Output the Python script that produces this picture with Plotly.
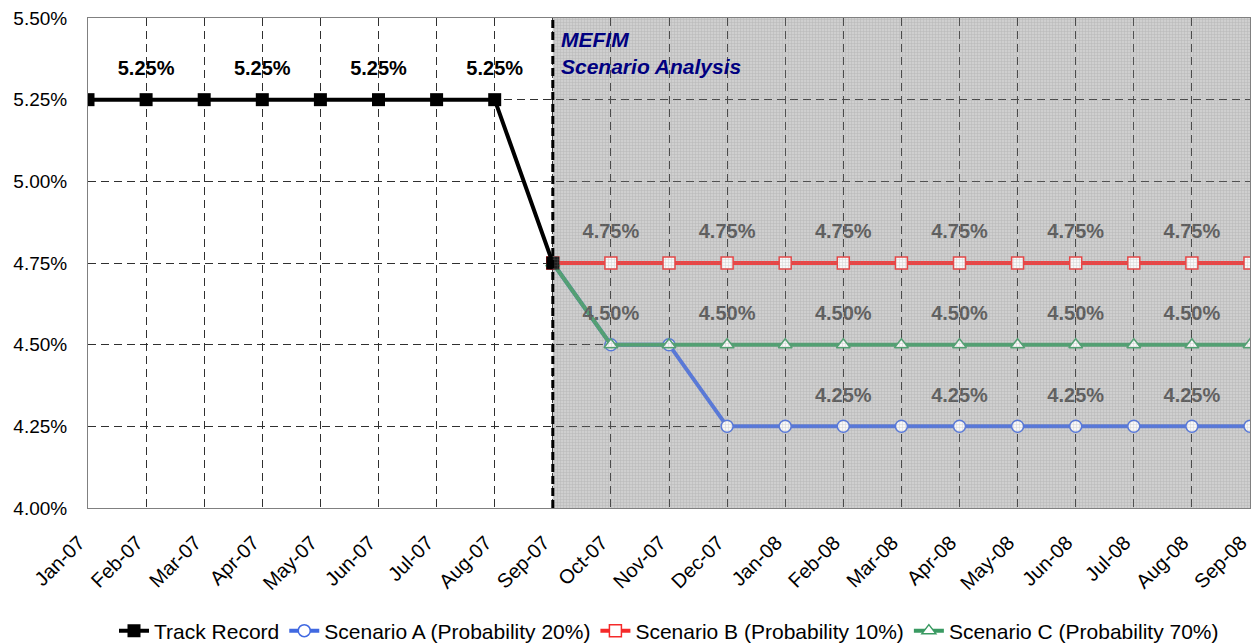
import plotly.graph_objects as go

# Month axis
months = ["Jan-07", "Feb-07", "Mar-07", "Apr-07", "May-07", "Jun-07", "Jul-07",
          "Aug-07", "Sep-07", "Oct-07", "Nov-07", "Dec-07", "Jan-08", "Feb-08",
          "Mar-08", "Apr-08", "May-08", "Jun-08", "Jul-08", "Aug-08", "Sep-08"]

# Policy rate history (%)
track_months = months[:9]
track_record = [5.25, 5.25, 5.25, 5.25, 5.25, 5.25, 5.25, 5.25, 4.75]

# Scenario paths starting from the last observed rate (%)
scen_months = months[8:]
scenario_a = [4.75, 4.50, 4.50, 4.25, 4.25, 4.25, 4.25, 4.25, 4.25, 4.25, 4.25, 4.25, 4.25]
scenario_b = [4.75, 4.75, 4.75, 4.75, 4.75, 4.75, 4.75, 4.75, 4.75, 4.75, 4.75, 4.75, 4.75]
scenario_c = [4.75, 4.50, 4.50, 4.50, 4.50, 4.50, 4.50, 4.50, 4.50, 4.50, 4.50, 4.50, 4.50]

y_ticks = [4.00, 4.25, 4.50, 4.75, 5.00, 5.25, 5.50]

FONT = "Liberation Sans, Arial, sans-serif"
split = months.index("Sep-07")


def pick(values, months_, keep):
    pts = [(m, v) for m, v in zip(months_, values) if m in keep]
    return [p[0] for p in pts], [p[1] for p in pts]


fig = go.Figure()

# Grey backdrop of the forecast horizon (beneath the gridlines)
fig.add_shape(type="rect", xref="x", yref="y",
              x0=split, x1=len(months) - 1, y0=y_ticks[0], y1=y_ticks[-1],
              fillcolor="#cfcfcf", line=dict(width=0), layer="below")


def series(x, y, name, color, symbol, rank):
    fig.add_trace(go.Scatter(
        x=x, y=y, name=name, mode="lines+markers", legendrank=rank,
        line=dict(color=color, width=4),
        marker=dict(symbol=symbol, size=12, color="white",
                    line=dict(color=color, width=1.5))))


def value_labels(x, y, color):
    fig.add_trace(go.Scatter(
        x=x, y=y, mode="markers+text", text=[f"{v:.2f}%" for v in y],
        textposition="top center", showlegend=False, hoverinfo="skip",
        marker=dict(size=30, color="rgba(0,0,0,0)"),
        textfont=dict(family=FONT, size=20, color=color, weight="bold")))


series(scen_months, scenario_a, "Scenario A (Probability 20%)", "#4169E1", "circle", 2)
series(scen_months, scenario_b, "Scenario B (Probability 10%)", "#F52A2A", "square", 3)
series(scen_months, scenario_c, "Scenario C (Probability 70%)", "#3A9A62", "triangle-up", 4)

fig.add_trace(go.Scatter(
    x=track_months, y=track_record, name="Track Record",
    mode="lines+markers", legendrank=1,
    line=dict(color="black", width=4),
    marker=dict(symbol="square", size=13, color="black")))

every_other = {"Oct-07", "Dec-07", "Feb-08", "Apr-08", "Jun-08", "Aug-08"}
value_labels(*pick(track_record, track_months, {"Feb-07", "Apr-07", "Jun-07", "Aug-07"}), "black")
value_labels(*pick(scenario_b, scen_months, every_other), "#4a4a4a")
value_labels(*pick(scenario_c, scen_months, every_other), "#4a4a4a")
value_labels(*pick(scenario_a, scen_months, {"Feb-08", "Apr-08", "Jun-08", "Aug-08"}), "#4a4a4a")

# Fine grid hatching laid over the forecast horizon
fig.add_trace(go.Scatter(
    x=[months[split], months[-1], months[-1], months[split], months[split]],
    y=[y_ticks[0], y_ticks[0], y_ticks[-1], y_ticks[-1], y_ticks[0]],
    mode="lines", fill="toself", line=dict(width=0),
    fillcolor="rgba(0,0,0,0)",
    fillpattern=dict(shape="+", size=3, solidity=0.3,
                     fgcolor="rgba(130,130,130,0.6)",
                     bgcolor="rgba(205,205,205,0.15)"),
    showlegend=False, hoverinfo="skip"))

# Divider between history and scenarios
fig.add_shape(type="line", xref="x", yref="y",
              x0=split, x1=split, y0=y_ticks[0], y1=y_ticks[-1],
              line=dict(color="black", width=3, dash="8px,4px"), layer="above")

fig.add_annotation(xref="x", yref="y", x=split, y=y_ticks[-1],
                   xanchor="left", yanchor="top", xshift=6, yshift=-8,
                   align="left", showarrow=False,
                   text="<b><i>MEFIM<br>Scenario Analysis</i></b>",
                   font=dict(family=FONT, size=21, color="#000080"))

fig.update_xaxes(
    type="category", categoryorder="array", categoryarray=months,
    range=[0, len(months) - 1], tickangle=-45, automargin=False,
    tickfont=dict(family=FONT, size=20, color="black"),
    showgrid=True, gridcolor="#303030", gridwidth=1, griddash="8px,5px",
    showline=True, linecolor="#808080", linewidth=1, mirror=True,
    ticks="", ticklabelstandoff=14, ticklabelshift=-9, zeroline=False)

fig.update_yaxes(
    range=[y_ticks[0], y_ticks[-1]], tickvals=y_ticks,
    ticktext=[f"{v:.2f}%" for v in y_ticks], automargin=False,
    tickfont=dict(family=FONT, size=19, color="black"),
    showgrid=True, gridcolor="#303030", gridwidth=1, griddash="8px,5px",
    showline=True, linecolor="#808080", linewidth=1, mirror=True,
    ticks="", ticklabelstandoff=16, zeroline=False)

fig.update_layout(
    width=1254, height=644,
    margin=dict(l=88, r=4, t=18, b=136, autoexpand=False),
    plot_bgcolor="white", paper_bgcolor="white",
    font=dict(family=FONT, size=18, color="black"),
    showlegend=True,
    legend=dict(orientation="h", x=0.5, xanchor="center", y=-0.251, yanchor="middle",
                font=dict(family=FONT, size=21, color="black"),
                itemwidth=30, tracegroupgap=0, traceorder="normal"),
)

fig.write_html("out.html")
